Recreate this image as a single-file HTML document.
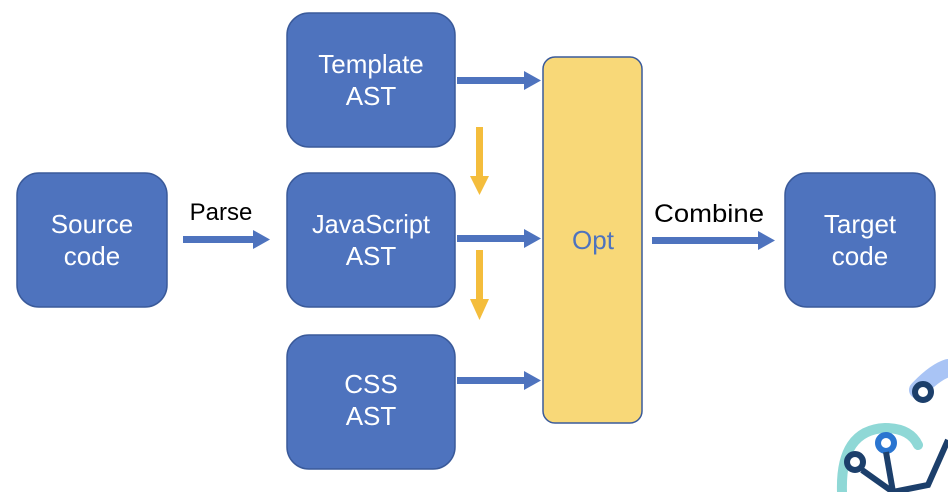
<!DOCTYPE html>
<html><head><style>
html,body{margin:0;padding:0;background:#fff;width:948px;height:492px;overflow:hidden}
svg{display:block}
text{font-family:"Liberation Sans",sans-serif;}
</style></head><body>
<svg width="948" height="492" viewBox="0 0 948 492">
<g fill="#4E73BE" stroke="#3A5A9A" stroke-width="1.5">
<rect x="17" y="173" width="150" height="134" rx="22"/>
<rect x="287" y="13" width="168" height="134" rx="22"/>
<rect x="287" y="173" width="168" height="134" rx="22"/>
<rect x="287" y="335" width="168" height="134" rx="22"/>
<rect x="785" y="173" width="150" height="134" rx="22"/>
</g>
<rect x="543" y="57" width="99" height="366" rx="12" fill="#F8D878" stroke="#3A5A9A" stroke-width="1.5"/>
<g fill="#fff" font-size="26" text-anchor="middle">
<text x="92" y="233">Source</text><text x="92" y="265">code</text>
<text x="371" y="73">Template</text><text x="371" y="105">AST</text>
<text x="371" y="233" textLength="118" lengthAdjust="spacingAndGlyphs">JavaScript</text><text x="371" y="265">AST</text>
<text x="371" y="393">CSS</text><text x="371" y="425">AST</text>
<text x="860" y="233">Target</text><text x="860" y="265">code</text>
</g>
<text x="593" y="249" font-size="26" fill="#4E73BE" text-anchor="middle">Opt</text>
<text x="221" y="220" font-size="24" fill="#000" text-anchor="middle">Parse</text>
<text x="709" y="222" font-size="25" fill="#000" text-anchor="middle" textLength="110" lengthAdjust="spacingAndGlyphs">Combine</text>
<g fill="#4E73BE">
<rect x="183" y="236" width="72" height="7"/><polygon points="253,230 270,239.5 253,249"/>
<rect x="457" y="77" width="68" height="7"/><polygon points="524,71 541,80.5 524,90"/>
<rect x="457" y="235" width="68" height="7"/><polygon points="524,229 541,238.5 524,248"/>
<rect x="457" y="377" width="68" height="7"/><polygon points="524,371 541,380.5 524,390"/>
<rect x="652" y="237" width="108" height="7"/><polygon points="758,231 775,240.5 758,250"/>
</g>
<g fill="#F4BD3C">
<rect x="476" y="127" width="7" height="50"/><polygon points="470,176 489,176 479.5,195"/>
<rect x="476" y="250" width="7" height="50"/><polygon points="470,299 489,299 479.5,320"/>
</g>
<g fill="none" stroke-linecap="round">
<path d="M918,390 Q935,372 948,368" stroke="#A9C4F5" stroke-width="18"/>
<path d="M842,492 Q840,430 885,428 Q910,428 918,445" stroke="#8FD8D6" stroke-width="10"/>
</g>
<circle cx="923" cy="392" r="8" fill="#fff" stroke="#1C3F6B" stroke-width="6"/>
<circle cx="886" cy="443" r="8" fill="#fff" stroke="#2A75D0" stroke-width="6"/>
<circle cx="855" cy="462" r="8" fill="#fff" stroke="#1C3F6B" stroke-width="6"/>
<g stroke="#1C3F6B" stroke-width="6" fill="none">
<path d="M886,452 L893,492"/><path d="M862,470 L893,492"/><path d="M948,440 L928,485 L893,492"/>
</g>
</svg>
</body></html>
